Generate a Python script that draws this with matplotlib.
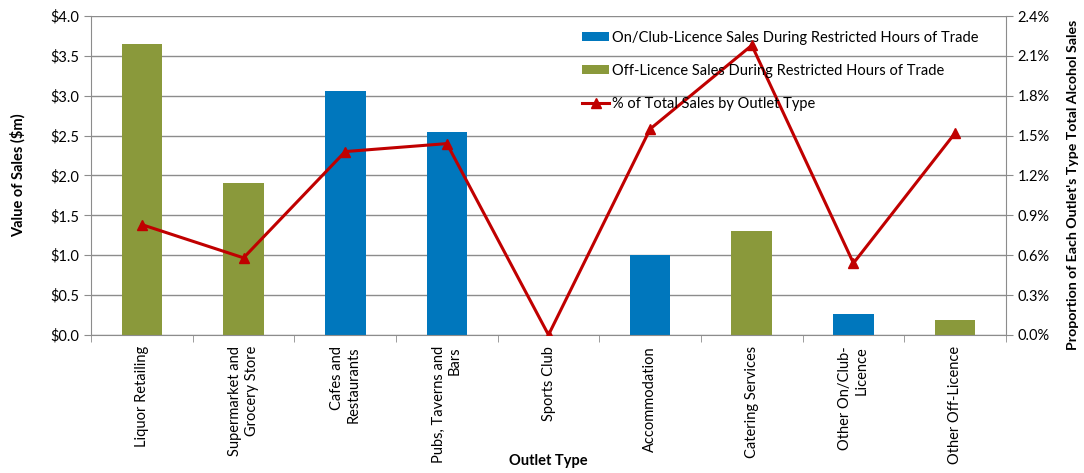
"""
Restricted-hours alcohol sales by outlet type: bars for value of sales,
line for share of each outlet type's total alcohol sales.
"""

import numpy as np
from matplotlib import pyplot as plt
from matplotlib.ticker import FuncFormatter, MultipleLocator

plt.rcParams['font.family'] = ['Lato', 'DejaVu Sans']

outlets = ['Liquor Retailing', 'Supermarket and\nGrocery Store', 'Cafes and\nRestaurants',
           'Pubs, Taverns and\nBars', 'Sports Club', 'Accommodation', 'Catering Services',
           'Other On/Club-\nLicence', 'Other Off-Licence']
sales = [3.65, 1.90, 3.06, 2.55, 0.0, 1.00, 1.30, 0.26, 0.19]
on_licence = [False, False, True, True, True, True, False, True, False]
pct_total = [0.83, 0.58, 1.38, 1.44, 0.0, 1.55, 2.18, 0.54, 1.52]

blue = '#0077BD'
green = '#8A993B'
red = '#C00000'
grid_col = '#8C8C8C'

fig = plt.figure(figsize=(10.84, 4.73), dpi=100)
fig.subplots_adjust(left=0.084, right=0.928, top=0.966, bottom=0.292)
ax = fig.add_subplot(111)

x = np.arange(len(outlets))
sales = np.array(sales)
on_mask = np.array(on_licence)

ax.bar(x[on_mask], sales[on_mask], width=0.4, color=blue, zorder=2,
       label='On/Club-Licence Sales During Restricted Hours of Trade')
ax.bar(x[~on_mask], sales[~on_mask], width=0.4, color=green, zorder=2,
       label='Off-Licence Sales During Restricted Hours of Trade')

ax.set_xlim(-0.5, len(outlets) - 0.5)
ax.set_ylim(0, 4.0)
ax.yaxis.set_major_locator(MultipleLocator(0.5))
ax.yaxis.set_major_formatter(FuncFormatter(lambda v, p: r'\$%.1f' % v))
ax.grid(axis='y', color=grid_col, linewidth=1, zorder=0)
ax.set_axisbelow(True)

ax.set_xticks(x)
ax.set_xticklabels(outlets, rotation=90, ha='center', va='top', multialignment='right',
                   fontsize=10.5)
ax.set_xticks(np.arange(len(outlets) + 1) - 0.5, minor=True)
ax.tick_params(axis='x', which='major', length=0, pad=8)
ax.tick_params(axis='x', which='minor', length=5, color=grid_col)
ax.tick_params(axis='y', length=5, color=grid_col, labelsize=10.5)

for side in ['top', 'right']:
    ax.spines[side].set_visible(False)
for side in ['left', 'bottom']:
    ax.spines[side].set_color(grid_col)

ax.set_ylabel(r'Value of Sales (\$m)', fontweight='bold', fontsize=10.5)
ax.yaxis.set_label_coords(-0.071, 0.5)
ax.set_xlabel('Outlet Type', fontweight='bold', fontsize=10.5, va='center')
ax.xaxis.set_label_coords(0.5, -0.395)

ax2 = ax.twinx()
ax2.plot(x, pct_total, color=red, linewidth=2.2, marker='^', markersize=7,
         label='% of Total Sales by Outlet Type', zorder=3)
ax2.set_ylim(0, 2.4)
ax2.yaxis.set_major_locator(MultipleLocator(0.3))
ax2.yaxis.set_major_formatter(FuncFormatter(lambda v, p: '%.1f%%' % v))
ax2.tick_params(axis='y', length=5, color=grid_col, labelsize=10.5)
for side in ['top', 'left', 'bottom']:
    ax2.spines[side].set_visible(False)
ax2.spines['right'].set_color(grid_col)
ax2.set_ylabel("Proportion of Each Outlet's Type Total Alcohol Sales", fontweight='bold',
               fontsize=10.2)
ax2.yaxis.set_label_coords(1.067, 0.47)

h1, l1 = ax.get_legend_handles_labels()
h2, l2 = ax2.get_legend_handles_labels()
ax2.legend(h1 + h2, l1 + l2, loc='upper left', bbox_to_anchor=(0.522, 0.995), frameon=False,
           fontsize=10.5, labelspacing=1.3, handlelength=1.9, handleheight=0.5,
           handletextpad=0.2)

fig.savefig('out.png', dpi=100)
